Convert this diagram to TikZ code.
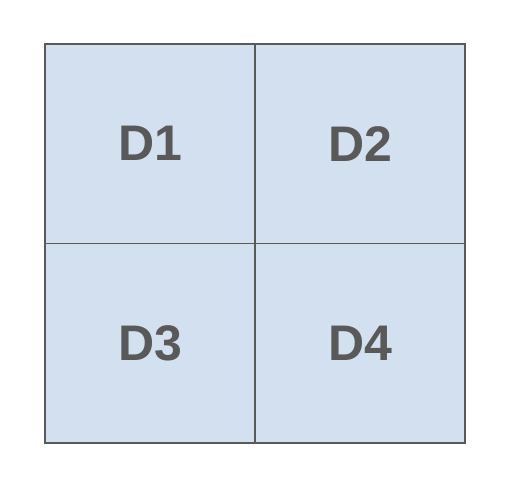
\documentclass[tikz,border=0pt]{standalone}
\usepackage{fontspec}
\setmainfont{Liberation Sans}
\definecolor{cellfill}{HTML}{D3E0EF}
\definecolor{cellline}{HTML}{595959}
\begin{document}
\begin{tikzpicture}[x=1pt, y=-1pt, cell/.style={draw=cellline, fill=cellfill, line width=1.6pt, minimum width=210pt, minimum height=199.5pt, inner sep=0pt, text=cellline, font=\fontsize{50}{60}\selectfont\bfseries}]
\useasboundingbox (0,0) rectangle (506,484);
\node[cell] (d1) at (150,143.75) {D1};
\node[cell] (d2) at (360,143.75) {D2};
\node[cell] (d3) at (150,343.25) {D3};
\node[cell] (d4) at (360,343.25) {D4};
\end{tikzpicture}
\end{document}
